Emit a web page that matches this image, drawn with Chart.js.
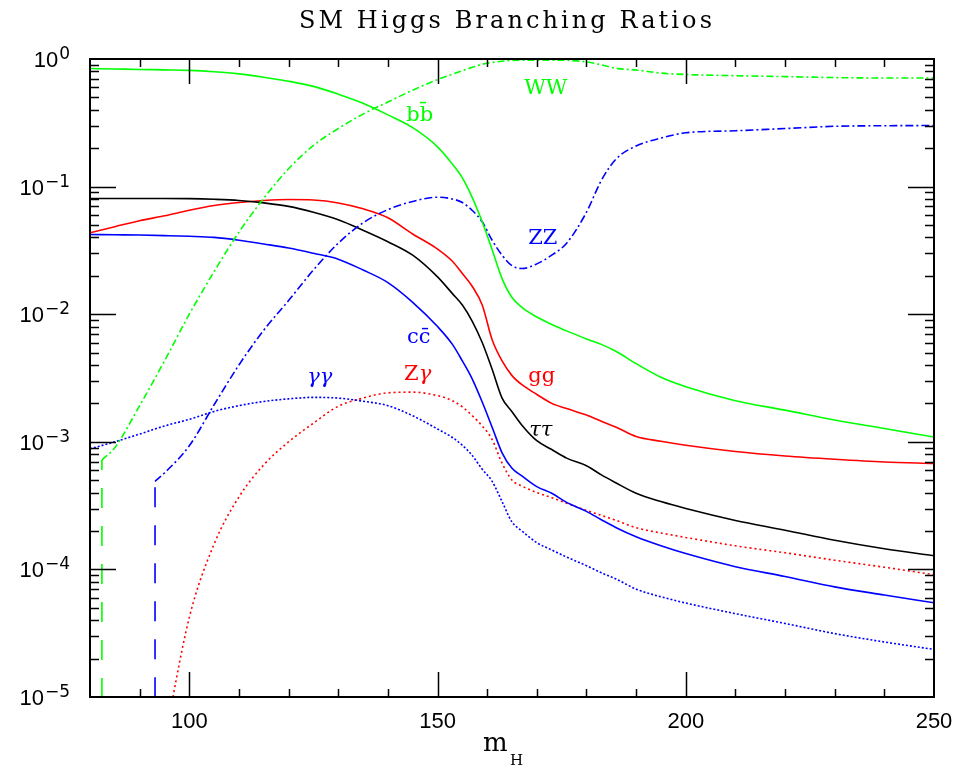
<!DOCTYPE html>
<html>
<head>
<meta charset="utf-8">
<script src="https://cdn.jsdelivr.net/npm/chart.js@4.4.1/dist/chart.umd.min.js"></script>
<style>
  html, body { margin: 0; background: #fff; }
  canvas { display: block; }
</style>
</head>
<body>
<canvas id="br-chart" width="956" height="773"></canvas>
<script>
// Higgs mass grid (GeV)
const mass = [80, 85, 90, 95, 100, 105, 110, 115, 120, 125, 130, 135, 140, 145, 150,
              153, 155, 157, 159, 161, 163, 165, 167, 170, 173, 176, 180, 183, 186, 190,
              195, 200, 210, 220, 230, 240, 250];

// Branching ratios, one value per mass
const bbbar = [0.842, 0.835, 0.828, 0.822, 0.815, 0.795, 0.765, 0.72, 0.67, 0.61, 0.53, 0.45, 0.365, 0.29, 0.205,
               0.15, 0.117, 0.082, 0.053, 0.032, 0.019, 0.0135, 0.0113, 0.0095, 0.0083, 0.0074, 0.0064, 0.0058, 0.0051, 0.0041,
               0.0032, 0.0027, 0.0021, 0.00177, 0.00148, 0.00127, 0.00109];
const ww = [null, 9.0e-4, 1.92e-3, 4.3e-3, 0.010, 0.0216, 0.044, 0.081, 0.138, 0.21, 0.285, 0.37, 0.46, 0.57, 0.69,
            0.76, 0.81, 0.86, 0.91, 0.94, 0.96, 0.975, 0.98, 0.98, 0.98, 0.975, 0.95, 0.90, 0.845, 0.82,
            0.775, 0.756, 0.74, 0.728, 0.715, 0.71, 0.71];
const zz = [null, null, null, 5.7e-4, 9.3e-4, 1.95e-3, 4.0e-3, 7.5e-3, 0.0128, 0.0222, 0.036, 0.052, 0.066, 0.0765, 0.0826,
            0.080, 0.075, 0.065, 0.053, 0.038, 0.029, 0.024, 0.0228, 0.0248, 0.029, 0.036, 0.063, 0.112, 0.165, 0.208,
            0.24, 0.264, 0.274, 0.285, 0.297, 0.30, 0.301];
const tautau = [0.0807, 0.0807, 0.0807, 0.0807, 0.0805, 0.0795, 0.0778, 0.0745, 0.070, 0.063, 0.055, 0.0455, 0.037, 0.029, 0.0196,
                0.0145, 0.0118, 0.0088, 0.0060, 0.0037, 0.0022, 0.00172, 0.00135, 0.00102, 8.7e-4, 7.45e-4, 6.5e-4, 5.5e-4, 4.75e-4, 3.95e-4,
                3.4e-4, 3.0e-4, 2.42e-4, 2.03e-4, 1.69e-4, 1.45e-4, 1.28e-4];
const gg = [0.0435, 0.0485, 0.054, 0.059, 0.0653, 0.071, 0.075, 0.0778, 0.0792, 0.0785, 0.0745, 0.067, 0.057, 0.0425, 0.0324,
            0.026, 0.0208, 0.0165, 0.0118, 0.0063, 0.0043, 0.0033, 0.0028, 0.00235, 0.0020, 0.00182, 0.00162, 0.00145, 0.0013, 0.0011,
            0.00101, 9.4e-4, 8.4e-4, 7.75e-4, 7.3e-4, 6.95e-4, 6.76e-4];
const ccbar = [0.0421, 0.0419, 0.0417, 0.0413, 0.0408, 0.040, 0.038, 0.0355, 0.033, 0.030, 0.027, 0.0222, 0.0177, 0.0124, 0.0080,
               0.0058, 0.0043, 0.0031, 0.00205, 0.0013, 8.2e-4, 6.2e-4, 5.4e-4, 4.45e-4, 3.95e-4, 3.35e-4, 2.85e-4, 2.45e-4, 2.12e-4, 1.8e-4,
               1.53e-4, 1.33e-4, 1.05e-4, 8.8e-5, 7.3e-5, 6.3e-5, 5.47e-5];
const gamgam = [8.8e-4, 1.0e-3, 1.15e-3, 1.33e-3, 1.5e-3, 1.73e-3, 1.92e-3, 2.07e-3, 2.17e-3, 2.23e-3, 2.2e-3, 2.08e-3, 1.92e-3, 1.6e-3, 1.26e-3,
                1.08e-3, 9.4e-4, 7.8e-4, 6.1e-4, 4.9e-4, 3.4e-4, 2.35e-4, 2.0e-4, 1.62e-4, 1.42e-4, 1.25e-4, 1.07e-4, 9.4e-5, 8.4e-5, 7.0e-5,
                6.1e-5, 5.45e-5, 4.5e-5, 3.77e-5, 3.14e-5, 2.7e-5, 2.36e-5];
const zgam = [null, null, null, 4.5e-6, 4.2e-5, 1.58e-4, 3.7e-4, 6.6e-4, 1.0e-3, 1.4e-3, 1.9e-3, 2.2e-3, 2.42e-3, 2.45e-3, 2.3e-3,
              2.1e-3, 1.88e-3, 1.6e-3, 1.33e-3, 1.04e-3, 6.8e-4, 5.0e-4, 4.5e-4, 4.0e-4, 3.65e-4, 3.3e-4, 2.9e-4, 2.65e-4, 2.42e-4, 2.12e-4,
              1.93e-4, 1.78e-4, 1.53e-4, 1.35e-4, 1.18e-4, 1.04e-4, 9.1e-5];

// Where WW and ZZ curves drop off the bottom (mass, BR at the kink)
const wwEdge = [82.4, 7.2e-4];
const zzEdge = [93.1, 4.9e-4];

// Axis ticks
const xTickLabels = [100, 150, 200, 250];
const yDecades = [1, 1e-1, 1e-2, 1e-3, 1e-4, 1e-5];
const yExponents = ['0', '\u22121', '\u22122', '\u22123', '\u22124', '\u22125'];

const GREEN = '#00ff00';
const BLUE = '#0000ff';
const RED = '#ff0000';
const BLACK = '#000000';

function series(values, edge) {
    const pts = [];
    if (edge) pts.push({ x: edge[0], y: edge[1] });
    mass.forEach((m, i) => {
        if (values[i] !== null) pts.push({ x: m, y: values[i] });
    });
    return pts;
}

function curve(label, values, color, dash, edge) {
    return {
        label: label,
        data: series(values, edge),
        borderColor: color,
        borderWidth: 1.6,
        borderDash: dash || [],
        pointRadius: 0,
        fill: false,
        cubicInterpolationMode: 'monotone'
    };
}

// vertical drop of a curve below its kinematic edge
function drop(label, edge, color, offset) {
    return {
        label: label,
        data: [{ x: edge[0], y: edge[1] }, { x: edge[0], y: 1e-6 }],
        borderColor: color,
        borderWidth: 1.6,
        borderDash: [20, 18],
        borderDashOffset: offset,
        pointRadius: 0,
        fill: false,
        tension: 0
    };
}

// Frame, inward ticks and all text
const decorations = {
    id: 'decorations',
    afterDraw(chart) {
        const { ctx, chartArea: a, scales: { x, y } } = chart;
        ctx.save();

        // inward ticks on all four sides
        ctx.strokeStyle = BLACK;
        ctx.lineWidth = 1.5;
        ctx.beginPath();
        for (let m = 90; m < 250; m += 10) {
            const px = Math.round(x.getPixelForValue(m)) + 0.5;
            const len = m % 50 === 0 ? 25 : 8;
            ctx.moveTo(px, a.bottom); ctx.lineTo(px, a.bottom - len);
            ctx.moveTo(px, a.top); ctx.lineTo(px, a.top + len);
        }
        for (let d = 1e-5; d < 1; d *= 10) {
            for (let k = 1; k <= 9; k++) {
                const v = d * k;
                if (v <= 1e-5 * 1.0001) continue;
                const py = Math.round(y.getPixelForValue(v)) + 0.5;
                const len = k === 1 ? 26 : 9;
                ctx.moveTo(a.left, py); ctx.lineTo(a.left + len, py);
                ctx.moveTo(a.right, py); ctx.lineTo(a.right - len, py);
            }
        }
        ctx.stroke();

        // frame
        ctx.lineWidth = 2;
        ctx.strokeRect(a.left, a.top, a.right - a.left, a.bottom - a.top);

        ctx.fillStyle = BLACK;

        // x tick labels
        ctx.font = '22px "Liberation Sans"';
        ctx.textAlign = 'center';
        ctx.textBaseline = 'alphabetic';
        xTickLabels.forEach(v => {
            ctx.fillText(String(v), x.getPixelForValue(v), a.bottom + 31);
        });

        // y tick labels: 10 with superscript exponent, right aligned at x=70
        yDecades.forEach((v, i) => {
            const py = y.getPixelForValue(v);
            ctx.font = '17px "DejaVu Sans"';
            const we = ctx.measureText(yExponents[i]).width;
            ctx.textAlign = 'right';
            ctx.fillText(yExponents[i], 70, py);
            ctx.font = '22px "Liberation Sans"';
            ctx.fillText('10', 70 - we - 1, py + 8);
        });

        // title
        ctx.font = '24px "DejaVu Serif"';
        ctx.textAlign = 'left';
        const title = 'SM Higgs Branching Ratios';
        const tw = ctx.measureText(title).width;
        const spacing = Math.max(0, (413 - tw) / (title.length - 1));
        if ('letterSpacing' in ctx) ctx.letterSpacing = spacing.toFixed(2) + 'px';
        const tw2 = ctx.measureText(title).width;
        ctx.fillText(title, 507 - tw2 / 2, 28);
        if ('letterSpacing' in ctx) ctx.letterSpacing = '0px';

        // x axis title m_H
        ctx.font = '26px "DejaVu Serif"';
        ctx.fillText('m', 483, 751);
        ctx.font = '15px "DejaVu Serif"';
        ctx.fillText('H', 510, 765);

        // curve labels
        const labels = [
            { parts: [['WW', '']], m: 171.8, br: 0.587, color: GREEN },
            { parts: [['bb\u0304', '']], m: 146.4, br: 0.36, color: GREEN },
            { parts: [['ZZ', '']], m: 171.2, br: 0.0392, color: BLUE },
            { parts: [['cc\u0304', '']], m: 146.2, br: 0.0066, color: BLUE },
            { parts: [['\u03b3\u03b3', 'italic ']], m: 126.3, br: 0.0032, color: BLUE },
            { parts: [['Z', ''], ['\u03b3', 'italic ']], m: 146.0, br: 0.00335, color: RED },
            { parts: [['gg', '']], m: 171.0, br: 0.00325, color: RED },
            { parts: [['\u03c4\u03c4', 'italic ']], m: 170.8, br: 0.00123, color: BLACK }
        ];
        ctx.textBaseline = 'middle';
        ctx.textAlign = 'left';
        labels.forEach(l => {
            let total = 0;
            l.parts.forEach(p => {
                ctx.font = p[1] + '21px "DejaVu Serif"';
                total += ctx.measureText(p[0]).width;
            });
            let px = x.getPixelForValue(l.m) - total / 2;
            const py = y.getPixelForValue(l.br);
            ctx.fillStyle = l.color;
            l.parts.forEach(p => {
                ctx.font = p[1] + '21px "DejaVu Serif"';
                ctx.fillText(p[0], px, py);
                px += ctx.measureText(p[0]).width;
            });
        });

        ctx.restore();
    }
};

const ctx = document.getElementById('br-chart').getContext('2d');
new Chart(ctx, {
    type: 'line',
    data: {
        datasets: [
            curve('b b\u0304', bbbar, GREEN),
            curve('WW', ww, GREEN, [7, 3, 2, 3], wwEdge),
            drop('WW edge', wwEdge, GREEN, 10),
            curve('ZZ', zz, BLUE, [8, 3, 2, 3], zzEdge),
            drop('ZZ edge', zzEdge, BLUE, 32),
            curve('\u03c4\u03c4', tautau, BLACK),
            curve('gg', gg, RED),
            curve('c c\u0304', ccbar, BLUE),
            curve('\u03b3\u03b3', gamgam, BLUE, [2, 2]),
            curve('Z\u03b3', zgam, RED, [2, 3])
        ]
    },
    options: {
        responsive: false,
        animation: false,
        layout: {
            padding: { left: 90, top: 59, right: 22, bottom: 76 }
        },
        plugins: {
            legend: { display: false },
            tooltip: { enabled: false },
            title: { display: false }
        },
        scales: {
            x: { type: 'linear', min: 80, max: 250, display: false },
            y: { type: 'logarithmic', min: 1e-5, max: 1, display: false }
        }
    },
    plugins: [decorations]
});
</script>
</body>
</html>
